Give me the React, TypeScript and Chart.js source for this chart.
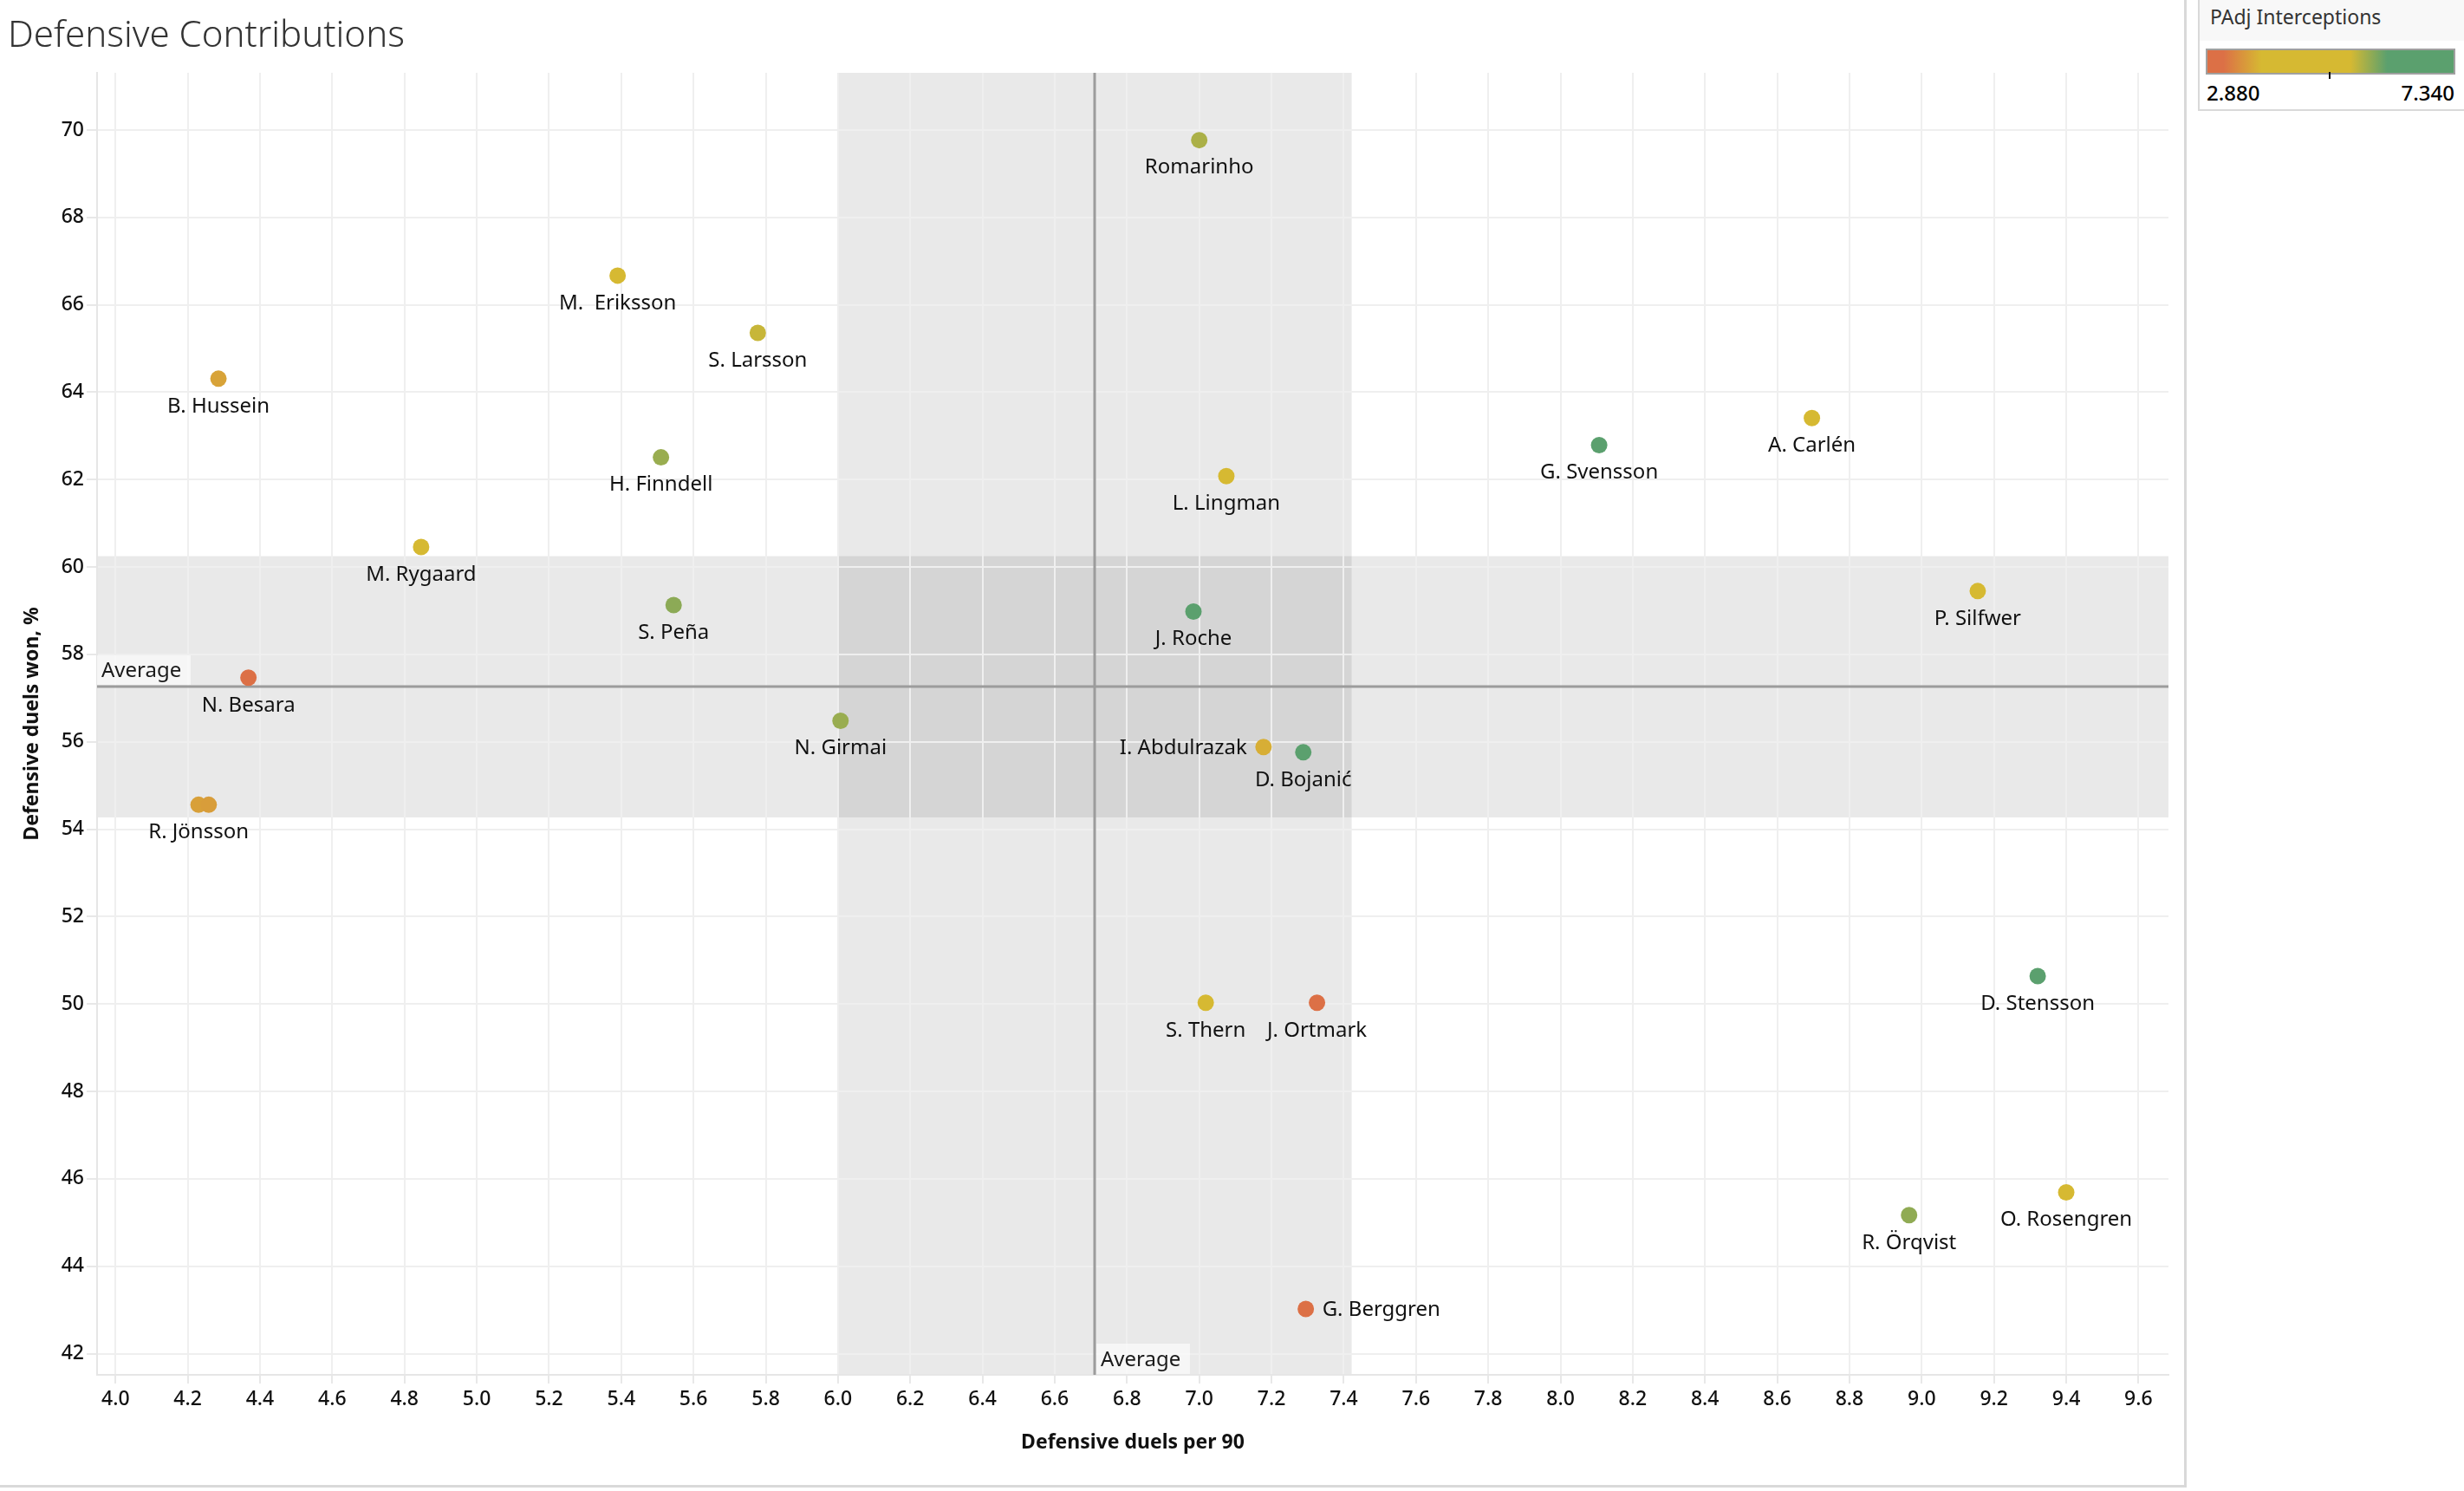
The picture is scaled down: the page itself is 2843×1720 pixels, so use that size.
import React, { useEffect, useRef } from 'react';
import { Chart, registerables } from 'chart.js';

Chart.register(...registerables);

const W = 2843;
const H = 1720;

// ---- data ----
const players = [
  'Romarinho', 'M.  Eriksson', 'S. Larsson', 'B. Hussein', 'H. Finndell', 'L. Lingman',
  'G. Svensson', 'A. Carlén', 'M. Rygaard', 'S. Peña', 'J. Roche', 'P. Silfwer',
  'N. Besara', 'N. Girmai', 'I. Abdulrazak', 'D. Bojanić', 'R. Jönsson', '',
  'S. Thern', 'J. Ortmark', 'D. Stensson', 'O. Rosengren', 'R. Örqvist', 'G. Berggren',
];
const duelsPer90 = [
  7.0, 5.39, 5.778, 4.285, 5.51, 7.075,
  8.107, 8.696, 4.846, 5.545, 6.984, 9.155,
  4.368, 6.007, 7.178, 7.288, 4.23, 4.258,
  7.018, 7.326, 9.321, 9.4, 8.965, 7.295,
];
const duelsWonPct = [
  69.77, 66.67, 65.36, 64.31, 62.51, 62.08,
  62.79, 63.41, 60.46, 59.13, 58.98, 59.45,
  57.47, 56.48, 55.88, 55.76, 54.56, 54.56,
  50.03, 50.03, 50.64, 45.69, 45.17, 43.02,
];
const interceptions = [
  5.7, 4.9, 5.55, 3.65, 5.8, 4.4,
  7.34, 4.7, 3.95, 5.87, 7.0, 4.5,
  2.88, 5.8, 3.76, 7.1, 3.62, 3.6,
  4.3, 3.0, 7.2, 4.1, 5.85, 2.95,
];

const xTickValues = [4.0, 4.2, 4.4, 4.6, 4.8, 5.0, 5.2, 5.4, 5.6, 5.8, 6.0, 6.2, 6.4, 6.6, 6.8, 7.0, 7.2, 7.4, 7.6, 7.8, 8.0, 8.2, 8.4, 8.6, 8.8, 9.0, 9.2, 9.4, 9.6];
const yTickValues = [42, 44, 46, 48, 50, 52, 54, 56, 58, 60, 62, 64, 66, 68, 70];

const avgDuelsPer90 = 6.711;
const sdDuelsPer90 = 0.711;
const avgDuelsWon = 57.26;
const sdDuelsWon = 2.99;

const colorMin = 2.88;
const colorMax = 7.34;
const colorStops: [number, string][] = [
  [0, '#DC7046'],
  [0.065, '#DC7046'],
  [0.22, '#D6B932'],
  [0.58, '#D6B932'],
  [0.73, '#5BA06E'],
  [1, '#5BA06E'],
];

const labelSide: Record<string, 'left' | 'right'> = {
  'I. Abdulrazak': 'left',
  'G. Berggren': 'right',
};

// ---- helpers ----
function hexToRgb(h: string) {
  const n = parseInt(h.slice(1), 16);
  return [(n >> 16) & 255, (n >> 8) & 255, n & 255];
}
function colorFor(v: number) {
  const t = Math.max(0, Math.min(1, (v - colorMin) / (colorMax - colorMin)));
  for (let i = 0; i < colorStops.length - 1; i++) {
    const [t0, c0] = colorStops[i];
    const [t1, c1] = colorStops[i + 1];
    if (t >= t0 && t <= t1) {
      const f = t1 === t0 ? 0 : (t - t0) / (t1 - t0);
      const a = hexToRgb(c0);
      const b = hexToRgb(c1);
      const r = a.map((x, k) => Math.round(x + (b[k] - x) * f));
      return `rgb(${r[0]},${r[1]},${r[2]})`;
    }
  }
  return colorStops[colorStops.length - 1][1];
}

const FONT = "'Noto Sans', 'DejaVu Sans', sans-serif";

const bandsPlugin = {
  id: 'bands',
  beforeDraw(chart: any) {
    const { ctx, chartArea: a, scales } = chart;
    const x = scales.x;
    const y = scales.y;
    ctx.save();
    ctx.beginPath();
    ctx.rect(a.left, a.top, a.right - a.left, a.bottom - a.top);
    ctx.clip();
    ctx.fillStyle = 'rgba(0,0,0,0.088)';
    const x0 = x.getPixelForValue(avgDuelsPer90 - sdDuelsPer90);
    const x1 = x.getPixelForValue(avgDuelsPer90 + sdDuelsPer90);
    ctx.fillRect(x0, a.top, x1 - x0, a.bottom - a.top);
    const y0 = y.getPixelForValue(avgDuelsWon + sdDuelsWon);
    const y1 = y.getPixelForValue(avgDuelsWon - sdDuelsWon);
    ctx.fillRect(a.left, y0, a.right - a.left, y1 - y0);
    ctx.restore();
  },
};

const avgPlugin = {
  id: 'avgLines',
  beforeDatasetsDraw(chart: any) {
    const { ctx, chartArea: a, scales } = chart;
    const lx = Math.round(scales.x.getPixelForValue(avgDuelsPer90));
    const ly = Math.round(scales.y.getPixelForValue(avgDuelsWon));
    ctx.save();
    ctx.strokeStyle = '#9C9C9C';
    ctx.lineWidth = 3;
    ctx.beginPath();
    ctx.moveTo(a.left, ly);
    ctx.lineTo(a.right, ly);
    ctx.moveTo(lx, a.top);
    ctx.lineTo(lx, a.bottom);
    ctx.stroke();

    ctx.font = `24px ${FONT}`;
    ctx.textBaseline = 'middle';
    ctx.textAlign = 'left';
    // horizontal line label
    ctx.fillStyle = 'rgba(255,255,255,0.55)';
    ctx.fillRect(a.left, ly - 36, 108, 34);
    ctx.fillStyle = '#1a1a1a';
    ctx.fillText('Average', a.left + 5, ly - 18);
    // vertical line label
    ctx.fillStyle = 'rgba(255,255,255,0.55)';
    ctx.fillRect(lx + 2, a.bottom - 36, 108, 35);
    ctx.fillStyle = '#1a1a1a';
    ctx.fillText('Average', lx + 7, a.bottom - 17);
    ctx.restore();
  },
};

const labelsPlugin = {
  id: 'pointLabels',
  afterDatasetsDraw(chart: any) {
    const { ctx } = chart;
    const meta = chart.getDatasetMeta(0);
    ctx.save();
    ctx.font = `24px ${FONT}`;
    ctx.fillStyle = '#111';
    ctx.textBaseline = 'middle';
    meta.data.forEach((pt: any, i: number) => {
      const name = players[i];
      if (!name) return;
      const side = labelSide[name];
      if (side === 'left') {
        ctx.textAlign = 'right';
        ctx.fillText(name, pt.x - 19, pt.y + 1);
      } else if (side === 'right') {
        ctx.textAlign = 'left';
        ctx.fillText(name, pt.x + 19, pt.y + 1);
      } else {
        ctx.textAlign = 'center';
        ctx.fillText(name, pt.x, pt.y + 32);
      }
    });
    ctx.restore();
  },
};

function ScatterChart() {
  const ref = useRef<HTMLCanvasElement | null>(null);
  useEffect(() => {
    if (!ref.current) return;
    const data = duelsPer90.map((x, i) => ({ x, y: duelsWonPct[i] }));
    const chart = new Chart(ref.current, {
      type: 'scatter',
      data: {
        datasets: [
          {
            label: 'Players',
            data,
            pointRadius: 9.5,
            pointHoverRadius: 9.5,
            pointBorderWidth: 0,
            pointBackgroundColor: interceptions.map(colorFor),
            pointBorderColor: 'rgba(0,0,0,0)',
          },
        ],
      },
      options: {
        responsive: false,
        animation: false,
        devicePixelRatio: 1,
        layout: { padding: { left: 0, top: 84, right: 341, bottom: 0 } },
        plugins: {
          legend: { display: false },
          tooltip: { enabled: false },
          title: { display: false },
        },
        scales: {
          x: {
            type: 'linear',
            min: 3.949,
            max: 9.683,
            afterBuildTicks: (s: any) => {
              s.ticks = xTickValues.map((v) => ({ value: v }));
            },
            afterFit: (s: any) => {
              s.height = 134;
            },
            ticks: {
              autoSkip: false,
              maxRotation: 0,
              padding: 5,
              color: '#111',
              font: { family: FONT, size: 23, weight: '500' },
              callback: (v: any) => Number(v).toFixed(1),
            },
            grid: { color: '#EFEFEF', lineWidth: 2, tickLength: 10, tickColor: '#E8E8E8' },
            border: { display: true, color: '#E6E6E6', width: 2 },
            title: {
              display: true,
              text: 'Defensive duels per 90',
              color: '#111',
              font: { family: FONT, size: 23, weight: 'bold' },
              padding: { top: 0, bottom: 42 },
            },
          },
          y: {
            type: 'linear',
            min: 41.514,
            max: 71.31,
            afterBuildTicks: (s: any) => {
              s.ticks = yTickValues.map((v) => ({ value: v }));
            },
            afterFit: (s: any) => {
              s.width = 112;
            },
            ticks: {
              autoSkip: false,
              padding: 3,
              color: '#111',
              font: { family: FONT, size: 23, weight: '500' },
              callback: (v: any) => String(v),
            },
            grid: { color: '#EFEFEF', lineWidth: 2, tickLength: 12, tickColor: '#E8E8E8' },
            border: { display: true, color: '#E6E6E6', width: 2 },
            title: {
              display: true,
              text: 'Defensive duels won, %',
              color: '#111',
              font: { family: FONT, size: 23, weight: 'bold' },
              padding: { top: 24, bottom: 0 },
            },
          },
        },
      },
      plugins: [bandsPlugin, avgPlugin, labelsPlugin],
    } as any);
    return () => chart.destroy();
  }, []);
  return <canvas ref={ref} width={W} height={H} style={{ position: 'absolute', left: 0, top: 0, width: W, height: H }} />;
}

const gradientCss = `linear-gradient(to right, ${colorStops.map(([t, c]) => `${c} ${t * 100}%`).join(', ')})`;

export default function App() {
  return (
    <div style={{ position: 'absolute', left: 0, top: 0, width: W, height: H, background: '#fff', overflow: 'hidden' }}>
      <ScatterChart />
      <div
        style={{
          position: 'absolute', left: 9, top: 17, fontFamily: FONT, fontWeight: 300,
          fontSize: 42, lineHeight: '42px', color: '#333', whiteSpace: 'nowrap',
        }}
      >
        Defensive Contributions
      </div>
      {/* separators */}
      <div style={{ position: 'absolute', left: 2520, top: 0, width: 3, height: 1716, background: '#D9D9D9' }} />
      <div style={{ position: 'absolute', left: 0, top: 1713, width: 2523, height: 3, background: '#D9D9D9' }} />
      {/* colour legend */}
      <div
        style={{
          position: 'absolute', left: 2536, top: 0, width: 320, height: 128, boxSizing: 'border-box',
          borderLeft: '2px solid #D9D9D9', borderBottom: '2px solid #D9D9D9', background: '#fff',
        }}
      >
        <div style={{ position: 'absolute', left: 0, top: 0, right: 0, height: 47, background: '#F8F8F8' }} />
        <div
          style={{
            position: 'absolute', left: 12, top: 4, fontFamily: FONT, fontSize: 23, lineHeight: '30px',
            color: '#333', whiteSpace: 'nowrap',
          }}
        >
          PAdj Interceptions
        </div>
        <div
          style={{
            position: 'absolute', left: 7, top: 56, width: 288, height: 30, boxSizing: 'border-box',
            border: '2px solid #A0A0A0', background: gradientCss,
          }}
        />
        <div style={{ position: 'absolute', left: 149, top: 83, width: 2, height: 8, background: '#111' }} />
        <div
          style={{
            position: 'absolute', left: 8, top: 92, fontFamily: FONT, fontSize: 24, fontWeight: 500,
            lineHeight: '30px', color: '#000',
          }}
        >
          {colorMin.toFixed(3)}
        </div>
        <div
          style={{
            position: 'absolute', left: 150, width: 144, textAlign: 'right', top: 92, fontFamily: FONT,
            fontSize: 24, fontWeight: 500, lineHeight: '30px', color: '#000',
          }}
        >
          {colorMax.toFixed(3)}
        </div>
      </div>
    </div>
  );
}
